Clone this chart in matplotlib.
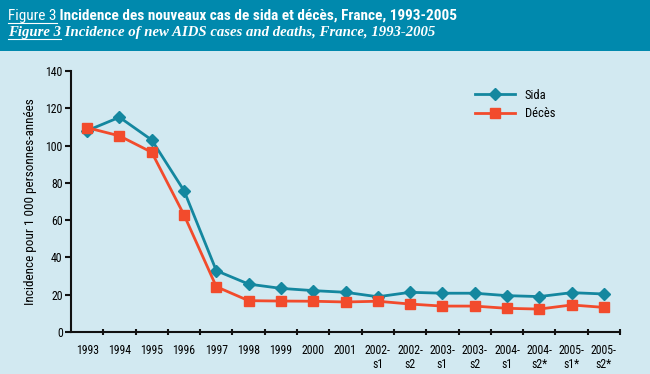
import matplotlib
matplotlib.use("Agg")
import matplotlib.pyplot as plt
from matplotlib import font_manager
from matplotlib.patches import Rectangle
from matplotlib.lines import Line2D

# choisir une police étroite si disponible
narrow = "DejaVu Sans"
for name in ["Liberation Sans Narrow", "Roboto Condensed", "DejaVu Sans Condensed"]:
    try:
        font_manager.findfont(name, fallback_to_default=False)
        narrow = name
        break
    except Exception:
        continue
plt.rcParams["font.family"] = [narrow, "DejaVu Sans"]

categories = ["1993", "1994", "1995", "1996", "1997", "1998", "1999", "2000", "2001",
              "2002-\ns1", "2002-\ns2", "2003-\ns1", "2003-\ns2", "2004-\ns1",
              "2004-\ns2*", "2005-\ns1*", "2005-\ns2*"]
sida = [108, 115.2, 103, 75.8, 32.9, 25.7, 23.4, 22.2, 21.3, 18.9, 21.3, 20.8,
        20.8, 19.5, 19.0, 21.1, 20.4]
deces = [109.6, 105.2, 96.4, 62.8, 24.3, 16.8, 16.6, 16.5, 16.1, 16.5, 15.0, 13.9,
         13.9, 12.7, 12.3, 14.5, 13.2]

BG = "#d2e9f1"
HEAD = "#0089ad"
TEAL = "#14879f"
RED = "#f24b2c"
SERIF = ["Liberation Serif", "DejaVu Serif"]

fig = plt.figure(figsize=(6.5, 3.74), dpi=100, facecolor=BG)

# bandeau du titre
fig.patches.append(Rectangle((0, 1 - 51 / 374), 1, 51 / 374, transform=fig.transFigure,
                             facecolor=HEAD, edgecolor="none", zorder=0))

t1 = fig.text(8 / 650, 1 - 20 / 374, "Figure 3", color="white", fontsize=11)
t2 = fig.text(8 / 650, 1 - 36 / 374, "Figure 3", color="white", fontsize=10.6,
              family=SERIF, style="italic", weight="bold")
fig.canvas.draw()
r = fig.canvas.get_renderer()
for t, rest, kw in [(t1, " Incidence des nouveaux cas de sida et décès, France, 1993-2005",
                     dict(weight="bold", fontsize=11)),
                    (t2, " Incidence of new AIDS cases and deaths, France, 1993-2005",
                     dict(family=SERIF, style="italic", weight="bold", fontsize=10.6))]:
    bb = t.get_window_extent(r)
    x1 = bb.x1 / fig.bbox.width
    y0 = t.get_position()[1]
    fig.text(x1, y0, rest, color="white", **kw)
    fig.add_artist(Line2D([bb.x0 / fig.bbox.width, x1], [y0 - 2.5 / 374] * 2,
                          transform=fig.transFigure, color="white", lw=0.8))

ax = fig.add_axes([71 / 650, 1 - 332 / 374, (620 - 71) / 650, (332 - 71) / 374])
ax.set_facecolor(BG)
x = list(range(len(categories)))
ax.plot(x, sida, color=TEAL, lw=2, marker="D", ms=6.5, label="Sida", zorder=3)
ax.plot(x, deces, color=RED, lw=2, marker="s", ms=6.5, label="Décès", zorder=3)

ax.set_xlim(-0.5, len(categories) - 0.5)
ax.set_ylim(0, 140)
ax.set_yticks(range(0, 141, 20))
ax.set_xticks(x)
ax.set_xticklabels(categories, fontsize=8.5, linespacing=1.05)
ax.set_xticks([i + 0.5 for i in x], minor=True)
ax.tick_params(axis="x", which="major", length=0, pad=9)
ax.tick_params(axis="x", which="minor", length=4, width=1.5, direction="inout", color="#111")
ax.tick_params(axis="y", length=4, width=1.5, labelsize=8.5, color="#111", pad=2)
for s in ["top", "right"]:
    ax.spines[s].set_visible(False)
for s in ["left", "bottom"]:
    ax.spines[s].set_linewidth(1.5)
    ax.spines[s].set_color("#111")
ax.set_ylabel("Incidence pour 1 000 personnes-années", fontsize=9.5, labelpad=6)

ax.legend(loc="upper left", bbox_to_anchor=(0.715, 0.975), frameon=False, fontsize=9,
          handlelength=3.2, labelspacing=0.45)

fig.savefig("out.png", dpi=100, facecolor=BG)
